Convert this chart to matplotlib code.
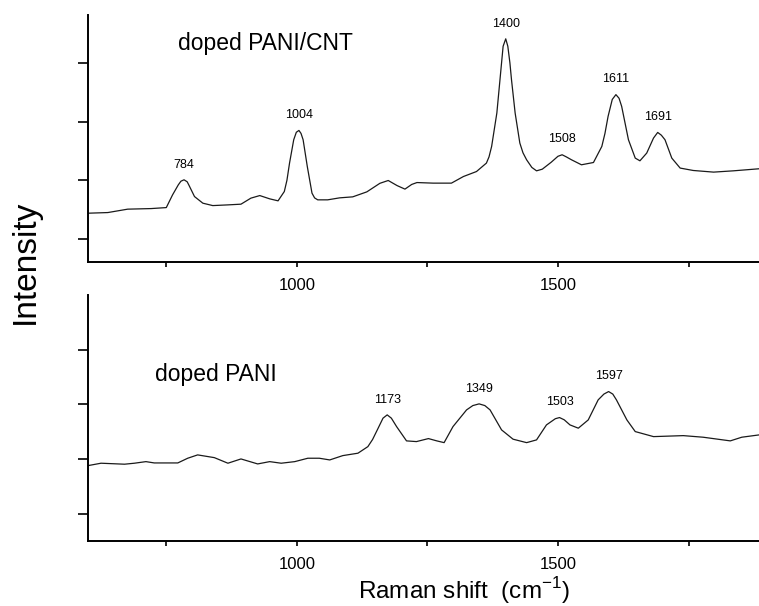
import matplotlib
matplotlib.use("Agg")
import matplotlib.pyplot as plt

plt.rcParams['font.family'] = ['Liberation Sans', 'DejaVu Sans']

# doped PANI/CNT spectrum (top panel)
cnt_shift = [600, 638, 676, 721, 750, 762, 773, 778, 784, 790, 793, 804, 820, 839, 868,
             893, 912, 929, 948, 964, 976, 981, 986, 994, 999, 1004, 1008, 1012, 1020, 1029,
             1034, 1040, 1059, 1082, 1107, 1134, 1159, 1175, 1192, 1207, 1220, 1230, 1261,
             1296, 1319, 1344, 1363, 1368, 1373, 1383, 1389, 1392, 1395, 1400, 1404, 1408,
             1411, 1418, 1427, 1433, 1440, 1450, 1459, 1470, 1487, 1500, 1508, 1516, 1526,
             1545, 1568, 1584, 1590, 1596, 1604, 1611, 1617, 1622, 1635, 1648, 1657, 1670,
             1683, 1691, 1698, 1705, 1718, 1734, 1759, 1798, 1836, 1885]
cnt_int = [1.439, 1.450, 1.508, 1.518, 1.535, 1.752, 1.923, 1.985, 2.009, 1.975, 1.923,
           1.723, 1.610, 1.569, 1.581, 1.593, 1.696, 1.740, 1.684, 1.650, 1.809, 2.000,
           2.294, 2.692, 2.820, 2.851, 2.800, 2.692, 2.236, 1.781, 1.700, 1.667, 1.667,
           1.701, 1.718, 1.803, 1.949, 1.997, 1.910, 1.850, 1.930, 1.962, 1.952, 1.952,
           2.065, 2.150, 2.294, 2.400, 2.578, 3.149, 3.718, 4.003, 4.287, 4.414, 4.287,
           4.003, 3.720, 3.149, 2.636, 2.470, 2.350, 2.220, 2.162, 2.190, 2.308, 2.410,
           2.436, 2.400, 2.350, 2.265, 2.304, 2.578, 2.800, 3.091, 3.380, 3.462, 3.400,
           3.262, 2.692, 2.379, 2.333, 2.465, 2.721, 2.817, 2.770, 2.692, 2.379, 2.209,
           2.168, 2.140, 2.162, 2.197]

# doped PANI spectrum (bottom panel)
pani_shift = [600, 625, 670, 689, 711, 727, 772, 791, 810, 842, 868, 893, 925, 948, 970,
              996, 1021, 1043, 1063, 1088, 1117, 1136, 1145, 1155, 1165, 1173, 1181, 1191,
              1210, 1229, 1252, 1268, 1282, 1299, 1325, 1337, 1349, 1360, 1370, 1392, 1414,
              1440, 1459, 1478, 1495, 1503, 1512, 1523, 1539, 1558, 1577, 1588, 1597, 1605,
              1612, 1632, 1648, 1683, 1740, 1778, 1830, 1852, 1885]
pani_int = [1.883, 1.927, 1.909, 1.927, 1.956, 1.932, 1.932, 2.018, 2.079, 2.029, 1.927,
            2.005, 1.914, 1.956, 1.927, 1.956, 2.018, 2.018, 1.987, 2.066, 2.110, 2.230,
            2.360, 2.554, 2.750, 2.810, 2.750, 2.596, 2.335, 2.322, 2.377, 2.335, 2.303,
            2.596, 2.901, 2.980, 3.011, 2.980, 2.901, 2.536, 2.366, 2.303, 2.353, 2.627,
            2.740, 2.761, 2.720, 2.627, 2.567, 2.718, 3.084, 3.190, 3.236, 3.190, 3.084,
            2.718, 2.505, 2.413, 2.431, 2.402, 2.335, 2.402, 2.444]

cnt_peaks = [784, 1004, 1400, 1508, 1611, 1691]
pani_peaks = [1173, 1349, 1503, 1597]

x_ticks = [750, 1000, 1250, 1500, 1750]
x_tick_labels = ['', '1000', '', '1500', '']
y_ticks = [1, 2, 3, 4]


def style_axis(ax, ylim):
    ax.set_xlim(600, 1885)
    ax.set_ylim(*ylim)
    for side in ['top', 'right']:
        ax.spines[side].set_visible(False)
    for side in ['left', 'bottom']:
        ax.spines[side].set_linewidth(1.4)
    ax.set_xticks(x_ticks)
    ax.set_xticklabels(x_tick_labels, fontsize=12)
    ax.set_yticks(y_ticks)
    ax.set_yticklabels([])
    ax.tick_params(axis='x', direction='out', length=3.6, width=1.2, pad=8)
    ax.tick_params(axis='y', direction='out', length=7, width=1.2)


def label_peaks(ax, shift, inten, peaks):
    for p in peaks:
        near = [v for s, v in zip(shift, inten) if abs(s - p) <= 6]
        ax.annotate(str(p), (p, max(near)), xytext=(0, 11), textcoords='offset points',
                    ha='center', va='center', fontsize=9)


fig = plt.figure(figsize=(7.59, 6.06), dpi=100)
ax1 = fig.add_axes([0.1159, 0.5677, 0.8841, 0.4075])
ax2 = fig.add_axes([0.1159, 0.1078, 0.8841, 0.4054])

ax1.plot(cnt_shift, cnt_int, color='#1a1a1a', lw=0.9, solid_joinstyle='round')
ax2.plot(pani_shift, pani_int, color='#1a1a1a', lw=0.9, solid_joinstyle='round')

style_axis(ax1, (0.607, 4.82))
style_axis(ax2, (0.512, 5.0))

label_peaks(ax1, cnt_shift, cnt_int, cnt_peaks)
label_peaks(ax2, pani_shift, pani_int, pani_peaks)

ax1.text(0.134, 0.858, 'doped PANI/CNT', transform=ax1.transAxes, fontsize=16.5, va='baseline')
ax2.text(0.0998, 0.650, 'doped PANI', transform=ax2.transAxes, fontsize=16.5, va='baseline')

fig.text(0.033, 0.5677, 'Intensity', rotation=90, ha='center', va='center', fontsize=24)
fig.text(0.611, 0.0248, 'Raman shift  (cm$^{\\mathregular{-1}}$)', ha='center', va='center', fontsize=17.5)

fig.savefig('out.png', dpi=100)
